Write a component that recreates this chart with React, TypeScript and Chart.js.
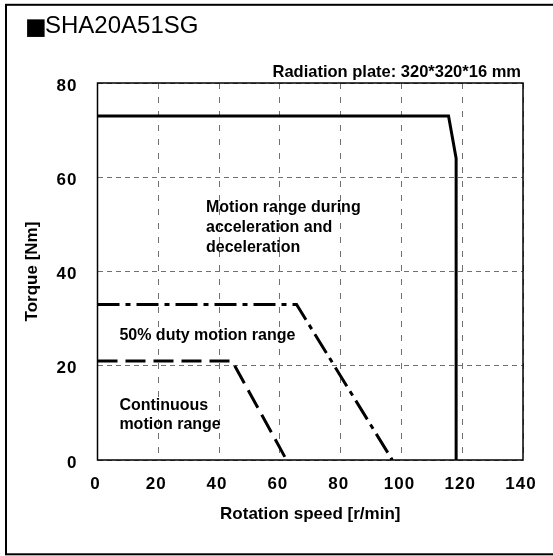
import React, { useEffect, useRef } from "react";
import { Chart, registerables } from "chart.js";

Chart.register(...registerables);

const titleMark = "■";
const chartTitle = "SHA20A51SG";
const noteText = "Radiation plate: 320*320*16 mm";
const xTitle = "Rotation speed [r/min]";
const yTitle = "Torque [Nm]";

// Curve data: rotation speed [r/min] vs torque [Nm]
const accelSpeed = [0, 115.5, 118, 118];
const accelTorque = [73, 73, 64, 0];
const dutySpeed = [0, 65.5, 97];
const dutyTorque = [33, 33, 0];
const contSpeed = [0, 44.3, 62.2];
const contTorque = [21, 21, 0];

const xMin = 0, xMax = 140, xStep = 20;
const yMin = 0, yMax = 80, yStep = 20;

// Region labels (anchor in data units: first line baseline)
const regionLabels = [
  { lines: ["Motion range during", "acceleration and", "deceleration"], x: 35.7, y: 52.7, gap: 20 },
  { lines: ["50% duty motion range"], x: 7.2, y: 25.5, gap: 20 },
  { lines: ["Continuous", "motion range"], x: 7.2, y: 10.7, gap: 19 },
];

const toPts = (xs: number[], ys: number[]) => xs.map((x, i) => ({ x, y: ys[i] }));

export default function App() {
  const ref = useRef<HTMLCanvasElement | null>(null);
  useEffect(() => {
    if (!ref.current) return;
    const FONT = "'Liberation Sans', Arial, sans-serif";
    const deco = {
      id: "deco",
      beforeDraw(chart: any) {
        const ctx = chart.ctx;
        ctx.save();
        ctx.fillStyle = "#fff";
        ctx.fillRect(0, 0, chart.width, chart.height);
        ctx.strokeStyle = "#000";
        ctx.lineWidth = 2;
        ctx.strokeRect(6, 4.8, 600, 549.5);
        ctx.restore();
      },
      beforeDatasetsDraw(chart: any) {
        const ctx = chart.ctx;
        const a = chart.chartArea;
        ctx.save();
        ctx.strokeStyle = "#000";
        ctx.lineWidth = 1.5;
        ctx.strokeRect(a.left, a.top, a.right - a.left, a.bottom - a.top);
        ctx.restore();
      },
      afterDatasetsDraw(chart: any) {
        (chart.ctx as any).letterSpacing = "1px";
      },
      afterDraw(chart: any) {
        const ctx = chart.ctx;
        (ctx as any).letterSpacing = "0px";
        const a = chart.chartArea;
        const xs = chart.scales.x;
        const ys = chart.scales.y;
        ctx.save();
        ctx.fillStyle = "#000";
        ctx.textBaseline = "alphabetic";
        ctx.textAlign = "left";
        ctx.font = `23px 'DejaVu Sans', sans-serif`;
        ctx.fillText(titleMark, 25, 33.5);
        ctx.font = `24px ${FONT}`;
        ctx.fillText(chartTitle, 45, 32.5);
        ctx.font = `bold 16.5px ${FONT}`;
        ctx.textAlign = "right";
        ctx.fillText(noteText, a.right - 2, a.top - 6);
        ctx.textAlign = "left";
        ctx.font = `bold 16px ${FONT}`;
        regionLabels.forEach((lab) => {
          const px = xs.getPixelForValue(lab.x);
          const py = ys.getPixelForValue(lab.y);
          lab.lines.forEach((t, i) => ctx.fillText(t, px, py + i * lab.gap));
        });
        ctx.restore();
      },
    };
    const chart = new Chart(ref.current, {
      type: "line",
      data: {
        datasets: [
          {
            data: toPts(accelSpeed, accelTorque),
            borderColor: "#000",
            borderWidth: 3,
            pointRadius: 0,
            fill: false,
            tension: 0,
            borderJoinStyle: "miter",
          },
          {
            data: toPts(dutySpeed, dutyTorque),
            borderColor: "#000",
            borderWidth: 3,
            borderDash: [22, 6, 5, 6],
            pointRadius: 0,
            fill: false,
            tension: 0,
          },
          {
            data: toPts(contSpeed, contTorque),
            borderColor: "#000",
            borderWidth: 3,
            borderDash: [20, 8],
            pointRadius: 0,
            fill: false,
            tension: 0,
          },
        ],
      },
      options: {
        animation: false,
        responsive: false,
        devicePixelRatio: 1,
        layout: { padding: { top: 83, right: 30, left: 0, bottom: 0 } },
        plugins: { legend: { display: false }, tooltip: { enabled: false } },
        scales: {
          x: {
            type: "linear",
            min: xMin,
            max: xMax,
            afterFit: (s: any) => { s.height = 96; },
            ticks: {
              stepSize: xStep,
              color: "#000",
              font: { family: FONT, size: 17, weight: "bold" },
              padding: 14,
              labelOffset: -2,
              maxRotation: 0,
              z: 1,
            },
            grid: { color: "#707070", lineWidth: 1, drawTicks: false },
            border: { display: false, dash: [6, 8] },
            title: {
              display: true,
              text: xTitle,
              color: "#000",
              font: { family: FONT, size: 17, weight: "bold" },
              padding: { top: 0, bottom: 31 },
            },
          },
          y: {
            type: "linear",
            min: yMin,
            max: yMax,
            afterFit: (s: any) => { s.width = 97.5; },
            ticks: {
              stepSize: yStep,
              color: "#000",
              font: { family: FONT, size: 17, weight: "bold" },
              padding: 20,
              labelOffset: 3,
              z: 1,
            },
            grid: { color: "#707070", lineWidth: 1, drawTicks: false },
            border: { display: false, dash: [5, 4] },
            title: {
              display: true,
              text: yTitle,
              color: "#000",
              font: { family: FONT, size: 17, weight: "bold" },
              padding: { top: 22, bottom: 0 },
            },
          },
        },
      },
      plugins: [deco],
    } as any);
    return () => chart.destroy();
  }, []);
  return (
    <div style={{ position: "fixed", left: 0, top: 0, width: 553, height: 556, background: "#fff" }}>
      <canvas ref={ref} width={553} height={556} style={{ width: 553, height: 556, display: "block" }} />
    </div>
  );
}
